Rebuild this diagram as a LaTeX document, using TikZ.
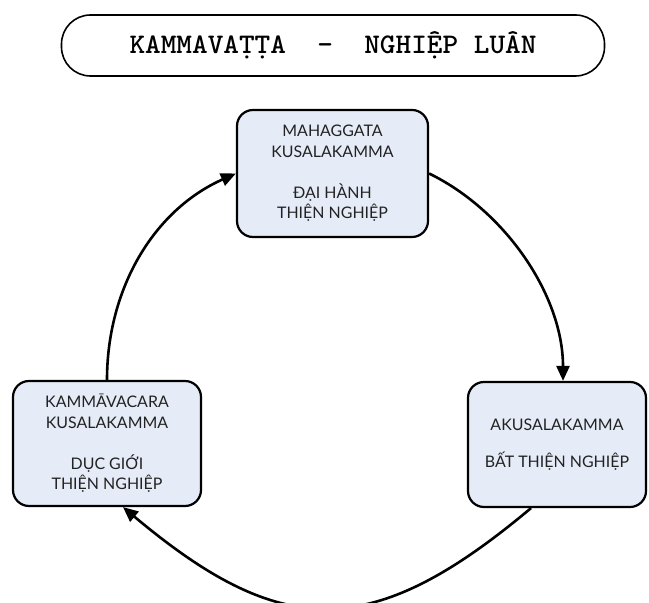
\documentclass[tikz,border=0pt]{standalone}
\usepackage{fontspec}
\usepackage{graphicx}
\setmainfont{Lato}
\usetikzlibrary{arrows.meta}
\definecolor{boxfill}{HTML}{E6ECF7}
\definecolor{boxtext}{HTML}{222222}
\begin{document}
\begin{tikzpicture}[x=1bp,y=1bp,
  stage/.style={draw=black, line width=2.2bp, fill=boxfill, rounded corners=16bp,
    align=center, inner sep=0pt, text=boxtext,
    font=\fontsize{16}{20.5}\selectfont},
  titlebox/.style={draw=black, line width=1.6bp, rounded corners=29bp,
    minimum width=543bp, minimum height=61bp, inner sep=0pt},
  cyc/.style={line width=2.6bp, -{Triangle[length=15bp,width=13bp]}},
]
\useasboundingbox (0,0) rectangle (649,603);
\clip (0,0) rectangle (649,603);

\node[titlebox] (title) at (333,557.5)
  {\scalebox{1.05}[1]{\ttfamily\bfseries\fontsize{28.5}{28.5}\selectfont KAMMAVAṬṬA\ \ —\ \ NGHIỆP\ LUÂN}};

\node[stage, minimum width=191bp, minimum height=127bp] (mah) at (332.5,429.5)
  {MAHAGGATA\\KUSALAKAMMA\\[20.5bp]ĐẠI HÀNH\\THIỆN NGHIỆP};
\node[stage, minimum width=188bp, minimum height=125bp] (kam) at (107,159.5)
  {KAMMĀVACARA\\KUSALAKAMMA\\[20.5bp]DỤC GIỚI\\THIỆN NGHIỆP};
\node[stage, minimum width=178bp, minimum height=125bp] (aku) at (557,158.5)
  {AKUSALAKAMMA\\[16bp]BẤT THIỆN NGHIỆP};

\draw[cyc] (kam.north) to[out=90,in=204,looseness=0.95] (mah.west);
\draw[cyc] (mah.east) to[out=-26,in=90,looseness=0.88] ([xshift=6bp]aku.north);
\draw[cyc] ([xshift=-26bp]aku.south) to[out=-140,in=-40,looseness=1.3] ([xshift=16bp]kam.south);
\end{tikzpicture}
\end{document}
